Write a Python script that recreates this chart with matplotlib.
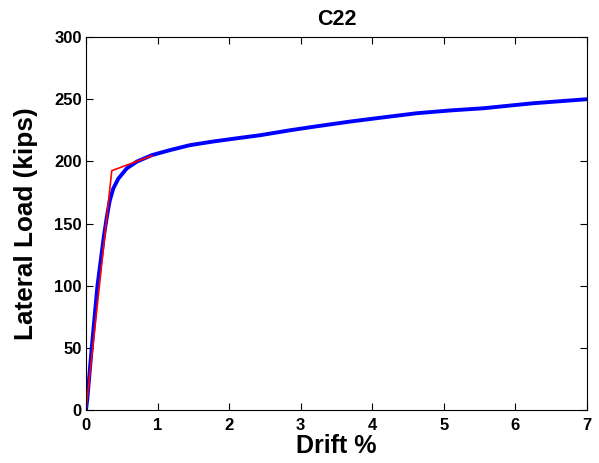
import matplotlib
matplotlib.use("Agg")
import matplotlib.pyplot as plt

# Pushover response: drift (%) vs lateral load (kips)
drift = [0.0, 0.02, 0.08, 0.16, 0.25, 0.29, 0.33, 0.38, 0.45, 0.57, 0.71, 0.92,
         1.17, 1.45, 1.78, 2.10, 2.43, 2.85, 3.20, 3.69, 4.10, 4.62, 5.10,
         5.55, 6.24, 7.00]
load = [0, 10, 50, 100, 140, 155, 168, 178, 186, 194.4, 199.8, 205,
        209, 213, 216, 218.5, 221, 225, 228, 232, 235, 238.7, 241,
        242.7, 246.7, 250]

# Bilinear idealization
bil_drift = [0.0, 0.36, 0.92]
bil_load = [0, 192.5, 204.5]

xticks = [0, 1, 2, 3, 4, 5, 6, 7]
yticks = [0, 50, 100, 150, 200, 250, 300]

plt.rcParams['font.family'] = ['Liberation Sans', 'DejaVu Sans']

fig = plt.figure(figsize=(5.99, 4.63), dpi=100)
ax = fig.add_axes([0.1436, 0.1145, 0.98 - 0.1436, 0.920 - 0.1145])

ax.plot(drift, load, color='#0000ff', lw=2.8, solid_capstyle='round')
ax.plot(bil_drift, bil_load, color='#ff0000', lw=1.2)

ax.set_xlim(0, 7)
ax.set_ylim(0, 300)
ax.set_xticks(xticks)
ax.set_yticks(yticks)
ax.tick_params(direction='in', length=5, width=0.8, top=True, right=True,
               labelsize=12)
ax.tick_params(axis='x', pad=5.5)
ax.tick_params(axis='y', pad=3)
for lab in ax.get_xticklabels() + ax.get_yticklabels():
    lab.set_fontweight('bold')
for s in ax.spines.values():
    s.set_linewidth(0.8)

ax.set_xlabel('Drift %', fontsize=18, fontweight='bold', labelpad=1)
ax.set_ylabel('Lateral Load (kips)', fontsize=18.8, fontweight='bold', labelpad=12)
ax.set_title('C22', fontsize=15.5, fontweight='bold', pad=8.5)

fig.savefig('out.png', dpi=100)
